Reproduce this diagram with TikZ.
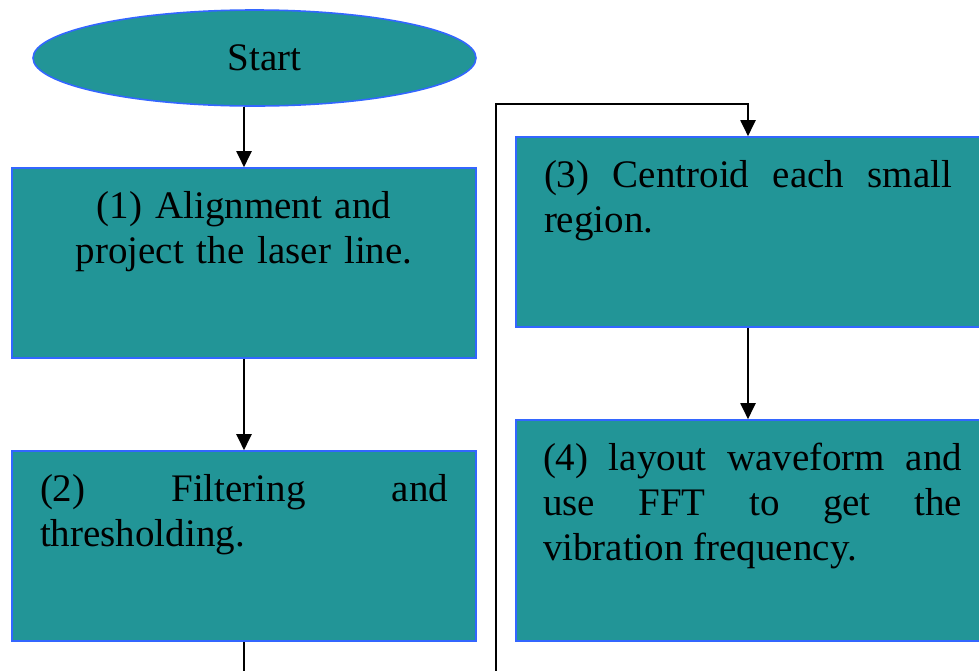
\documentclass[tikz,border=0pt]{standalone}
\usepackage{fontspec}
\setmainfont{Liberation Serif}
\usetikzlibrary{shapes.geometric,arrows.meta}
\definecolor{boxfill}{RGB}{34,149,151}
\definecolor{boxline}{RGB}{51,102,255}

\tikzset{
  stepbox/.style={draw=boxline, fill=boxfill, line width=0.8pt, inner ysep=0pt, inner xsep=14pt,
    text width=204pt, text height=25pt, text depth=70pt, font=\fontsize{19.5}{22.5}\selectfont},
  flow/.style={line width=1pt, -{Triangle[length=8pt,width=7.5pt]}},
}

\begin{document}
\begin{tikzpicture}[x=0.5pt,y=-0.5pt]
        \useasboundingbox (0,0) rectangle (979,670);
        % Draw the start ellipse
        \node[ellipse, draw=boxline, fill=boxfill, line width=0.8pt, minimum width=221.5pt, minimum height=48pt,
          inner sep=0pt, font=\fontsize{19.5}{22.5}\selectfont] (start) at (254.5,58) {\hspace*{10pt}Start};
        % Draw the steps
        \node[stepbox, align=center] (step1) at (244,263) {(1) Alignment and\\project the laser line.};
        \node[stepbox, align=justify] (step2) at (244,546) {(2) Filtering and\linebreak thresholding.};
        \node[stepbox, align=justify] (step3) at (748,232) {(3) Centroid each small\linebreak region.};
        \node[stepbox, align=justify, text width=209.5pt, inner xsep=13.5pt, text depth=85.5pt]
          (step4) at (752.5,530.5) {(4) layout waveform and\linebreak use FFT to get the\linebreak vibration frequency.};
        % Free ends of the lines running off the page
        \coordinate (down2) at (244,700);
        \coordinate (up3) at (496,700);
        \coordinate (top3) at (748,104);
        % Draw the connectors
        \draw[flow] (start.south -| step1.north) -- (step1);
        \draw[flow] (step1) -- (step2);
        \draw[line width=1pt] (step2) -- (down2);
        \draw[flow] (up3) |- (top3) -- (step3);
        \draw[flow] (step3.south) -- (step3.south |- step4.north);
    \end{tikzpicture}
\end{document}
